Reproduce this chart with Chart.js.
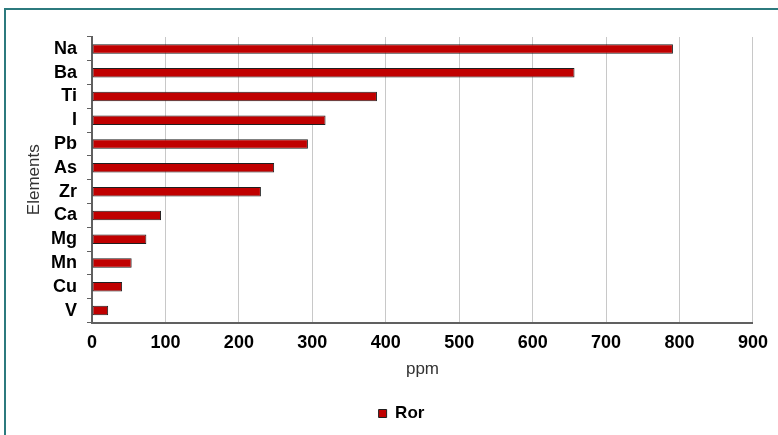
<!DOCTYPE html>
<html>
<head>
<meta charset="utf-8">
<script src="https://cdn.jsdelivr.net/npm/chart.js@4/dist/chart.umd.min.js"></script>
<style>
  html, body { margin: 0; padding: 0; background: #ffffff; overflow: hidden; }
  canvas { display: block; }
</style>
</head>
<body>
<canvas id="chart" width="778" height="435"></canvas>
<script>
// Element concentrations (ppm) for the "Ror" sample
const categories = ['Na', 'Ba', 'Ti', 'I', 'Pb', 'As', 'Zr', 'Ca', 'Mg', 'Mn', 'Cu', 'V'];
const rorValues = [791, 657, 388, 318, 294, 248, 230, 94, 74, 54, 41, 22];
const seriesName = 'Ror';
const xMin = 0;
const xMax = 900;
const xStep = 100;

const FONT = "'Liberation Sans', Arial, sans-serif";

// Teal frame along the top and left edges of the canvas
const frame = {
  id: 'frame',
  beforeDraw(chart) {
    const ctx = chart.ctx;
    ctx.save();
    ctx.strokeStyle = '#2c7a7e';
    ctx.lineWidth = 2;
    ctx.beginPath();
    ctx.moveTo(5, chart.height);
    ctx.lineTo(5, 9);
    ctx.lineTo(chart.width, 9);
    ctx.stroke();
    ctx.restore();
  }
};

// Nudges the legend a little to the right of the canvas centre
const legendShift = {
  id: 'legendShift',
  afterLayout(chart) {
    const lg = chart.legend;
    if (lg) { lg.left += 23; lg.right += 23; }
  }
};

new Chart(document.getElementById('chart'), {
  type: 'bar',
  data: {
    labels: categories,
    datasets: [{
      label: seriesName,
      data: rorValues,
      backgroundColor: '#c00000',
      borderColor: '#1f1f1f',
      borderWidth: 1,
      borderSkipped: false,
      categoryPercentage: 1,
      barPercentage: 0.4
    }]
  },
  plugins: [frame, legendShift],
  options: {
    indexAxis: 'y',
    responsive: false,
    animation: false,
    devicePixelRatio: 1,
    layout: { padding: { left: 0, top: 37, right: 21, bottom: 3 } },
    plugins: {
      tooltip: { enabled: false },
      legend: {
        display: true,
        position: 'bottom',
        labels: {
          boxWidth: 8,
          boxHeight: 8,
          padding: 10,
          color: '#000000',
          font: { family: FONT, size: 17, weight: 'bold' }
        }
      }
    },
    scales: {
      x: {
        type: 'linear',
        min: xMin,
        max: xMax,
        afterFit(scale) { scale.height = 72.5; },
        ticks: {
          stepSize: xStep,
          padding: 10,
          color: '#000000',
          font: { family: FONT, size: 18, weight: 'bold' }
        },
        grid: { color: '#c8c8c8', lineWidth: 1, drawTicks: false },
        border: { display: true, color: '#606060', width: 2 },
        title: {
          display: true,
          text: 'ppm',
          color: '#333333',
          font: { family: FONT, size: 17 },
          padding: { top: 0, bottom: 15 }
        }
      },
      y: {
        type: 'category',
        afterFit(scale) { scale.width = 92; },
        ticks: {
          autoSkip: false,
          padding: 10,
          color: '#000000',
          font: { family: FONT, size: 18, weight: 'bold' }
        },
        grid: {
          offset: true,
          drawOnChartArea: false,
          drawTicks: true,
          tickLength: 5,
          color: '#606060',
          lineWidth: 1
        },
        border: { display: true, color: '#606060', width: 2 },
        title: {
          display: true,
          text: 'Elements',
          color: '#333333',
          font: { family: FONT, size: 17 },
          padding: { top: 24, bottom: 0 }
        }
      }
    }
  }
});
</script>
</body>
</html>
